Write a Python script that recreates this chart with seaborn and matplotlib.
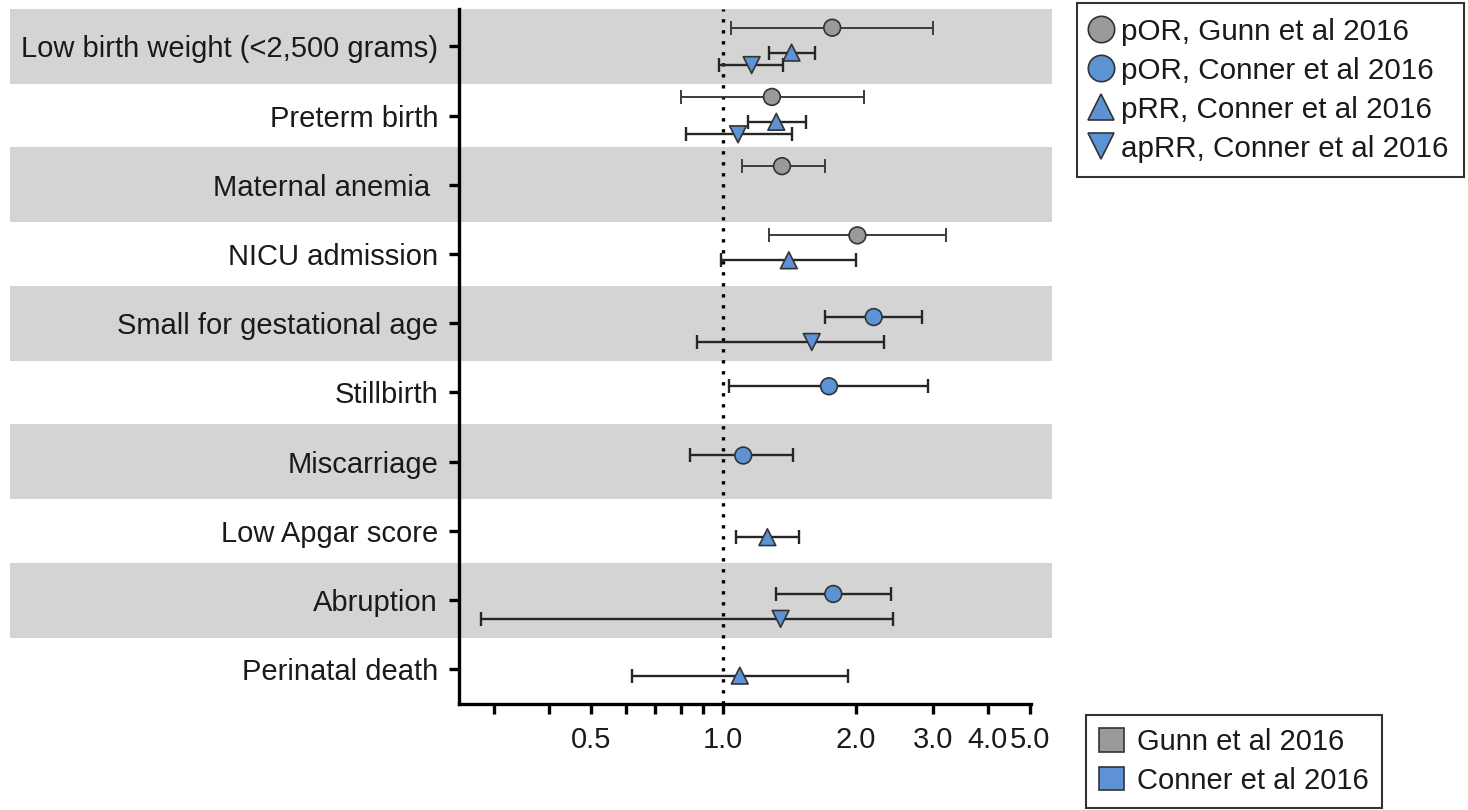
import numpy as np
import pandas as pd
import matplotlib
matplotlib.use("Agg")
import matplotlib.pyplot as plt
from matplotlib.lines import Line2D
from matplotlib.patches import Patch
import seaborn as sns

# --- data -------------------------------------------------------------
outcomes = ["Low birth weight (<2,500 grams)", "Preterm birth", "Maternal anemia ",
            "NICU admission", "Small for gestational age", "Stillbirth",
            "Miscarriage", "Low Apgar score", "Abruption", "Perinatal death"]

series_names = ["pOR, Gunn et al 2016", "pOR, Conner et al 2016",
                "pRR, Conner et al 2016", "apRR, Conner et al 2016"]
study_names = ["Gunn et al 2016", "Conner et al 2016"]

nan = np.nan
# estimate / lower CI / upper CI, one value per outcome
gunn_por    = [1.77, 1.29, 1.36, 2.02, nan, nan, nan, nan, nan, nan]
gunn_por_lo = [1.04, 0.80, 1.10, 1.27, nan, nan, nan, nan, nan, nan]
gunn_por_hi = [3.01, 2.09, 1.70, 3.22, nan, nan, nan, nan, nan, nan]

conner_por    = [nan, nan, nan, nan, 2.20, 1.74, 1.11, nan, 1.78, nan]
conner_por_lo = [nan, nan, nan, nan, 1.70, 1.03, 0.84, nan, 1.32, nan]
conner_por_hi = [nan, nan, nan, nan, 2.83, 2.93, 1.44, nan, 2.41, nan]

conner_prr    = [1.43, 1.32, nan, 1.41, nan, nan, nan, 1.26, nan, 1.09]
conner_prr_lo = [1.27, 1.14, nan, 0.99, nan, nan, nan, 1.07, nan, 0.62]
conner_prr_hi = [1.62, 1.54, nan, 2.01, nan, nan, nan, 1.49, nan, 1.92]

conner_aprr    = [1.16, 1.08, nan, nan, 1.59, nan, nan, nan, 1.35, nan]
conner_aprr_lo = [0.98, 0.82, nan, nan, 0.87, nan, nan, nan, 0.28, nan]
conner_aprr_hi = [1.37, 1.43, nan, nan, 2.32, nan, nan, nan, 2.43, nan]

xtick_values = [0.3, 0.4, 0.5, 0.6, 0.7, 0.8, 0.9, 1.0, 2.0, 3.0, 4.0, 5.0]
xtick_labels = ["", "", "0.5", "", "", "", "", "1.0", "2.0", "3.0", "4.0", "5.0"]

# --- style ------------------------------------------------------------
GRAY = "#9a9a9d"
BLUE = "#5d93d4"
EDGE = "#333333"
BAND = "#d4d4d4"

sns.set_style("ticks")
plt.rcParams["font.family"] = ["Liberation Sans", "DejaVu Sans"]

rows = []
est_lists = [gunn_por, conner_por, conner_prr, conner_aprr]
lo_lists = [gunn_por_lo, conner_por_lo, conner_prr_lo, conner_aprr_lo]
hi_lists = [gunn_por_hi, conner_por_hi, conner_prr_hi, conner_aprr_hi]
offsets = [-0.27, -0.09, 0.09, 0.27]
for k, name in enumerate(series_names):
    for i, out in enumerate(outcomes):
        if not np.isnan(est_lists[k][i]):
            rows.append({"outcome": out, "series": name, "est": est_lists[k][i],
                         "lo": lo_lists[k][i], "hi": hi_lists[k][i],
                         "ypos": i + offsets[k]})
df = pd.DataFrame(rows)

fig = plt.figure(figsize=(14.68, 8.10), dpi=100)
ax = fig.add_axes([459 / 1468, 1 - 704 / 810, (1031 - 459) / 1468, (704 - 9) / 810])

# alternating gray bands (extend past the axes like the original)
for i in range(0, len(outcomes), 2):
    ax.axhspan(i - 0.54, i + 0.54, xmin=-0.785, xmax=1.037, color=BAND,
               lw=0, zorder=0, clip_on=False)

ax.axvline(1.0, color="black", lw=2.4, linestyle=(0, (1, 2.3)), zorder=1)

# confidence intervals
for _, r in df.iterrows():
    gunn = "Gunn" in r["series"]
    ax.errorbar(r["est"], r["ypos"], xerr=[[r["est"] - r["lo"]], [r["hi"] - r["est"]]],
                fmt="none", ecolor="#3c3c3c" if gunn else "#262626",
                elinewidth=1.4 if gunn else 1.7, capsize=5,
                capthick=1.4 if gunn else 1.7, zorder=2)

palette = {series_names[0]: GRAY, series_names[1]: BLUE,
           series_names[2]: BLUE, series_names[3]: BLUE}
markers = {series_names[0]: "o", series_names[1]: "o",
           series_names[2]: "^", series_names[3]: "v"}
sns.scatterplot(data=df, x="est", y="ypos", hue="series", style="series",
                palette=palette, markers=markers, s=145, edgecolor=EDGE,
                linewidth=1.2, legend=False, zorder=3, ax=ax)

ax.set_xscale("log")
ax.set_xlim(0.25, 5.02)
ax.set_ylim(9.5, -0.54)
ax.set_xticks(xtick_values)
ax.set_xticklabels(xtick_labels)
ax.xaxis.set_minor_locator(matplotlib.ticker.NullLocator())
ax.set_yticks(range(len(outcomes)))
ax.set_yticklabels(outcomes)
ax.set_xlabel("")
ax.set_ylabel("")
ax.patch.set_visible(False)

for s in ["top", "right"]:
    ax.spines[s].set_visible(False)
for s in ["left", "bottom"]:
    ax.spines[s].set_linewidth(2.4)
    ax.spines[s].set_color("black")
ax.tick_params(axis="both", which="major", direction="out", width=2.4,
               length=7, color="black", labelsize=21, labelcolor="#1a1a1a")
ax.tick_params(axis="y", pad=8)
ax.tick_params(axis="x", pad=9)

# legends
h1 = [Line2D([], [], ls="none", marker="o", ms=19, mfc=GRAY, mec=EDGE, mew=1.2),
      Line2D([], [], ls="none", marker="o", ms=19, mfc=BLUE, mec=EDGE, mew=1.2),
      Line2D([], [], ls="none", marker="^", ms=19, mfc=BLUE, mec=EDGE, mew=1.2),
      Line2D([], [], ls="none", marker="v", ms=19, mfc=BLUE, mec=EDGE, mew=1.2)]
leg1 = fig.legend(handles=h1, labels=series_names, loc="upper left",
                  bbox_to_anchor=(1077 / 1468, 1 - 3 / 810), fontsize=21.3,
                  frameon=True, fancybox=False, edgecolor="black", borderpad=0.5,
                  labelspacing=0.37, handlelength=0.6, handletextpad=0.4,
                  borderaxespad=0)
leg1.get_frame().set_linewidth(1.5)

h2 = [Patch(facecolor=GRAY, edgecolor=EDGE, lw=1.2),
      Patch(facecolor=BLUE, edgecolor=EDGE, lw=1.2)]
leg2 = fig.legend(handles=h2, labels=study_names, loc="upper left",
                  bbox_to_anchor=(1086 / 1468, 1 - 715 / 810), fontsize=21,
                  frameon=True, fancybox=False, edgecolor="black", borderpad=0.45,
                  labelspacing=0.37, handlelength=0.85, handleheight=0.85,
                  handletextpad=0.45, borderaxespad=0)
leg2.get_frame().set_linewidth(1.5)
for t in leg1.get_texts() + leg2.get_texts():
    t.set_color("#1a1a1a")

fig.savefig("out.png", dpi=100)
